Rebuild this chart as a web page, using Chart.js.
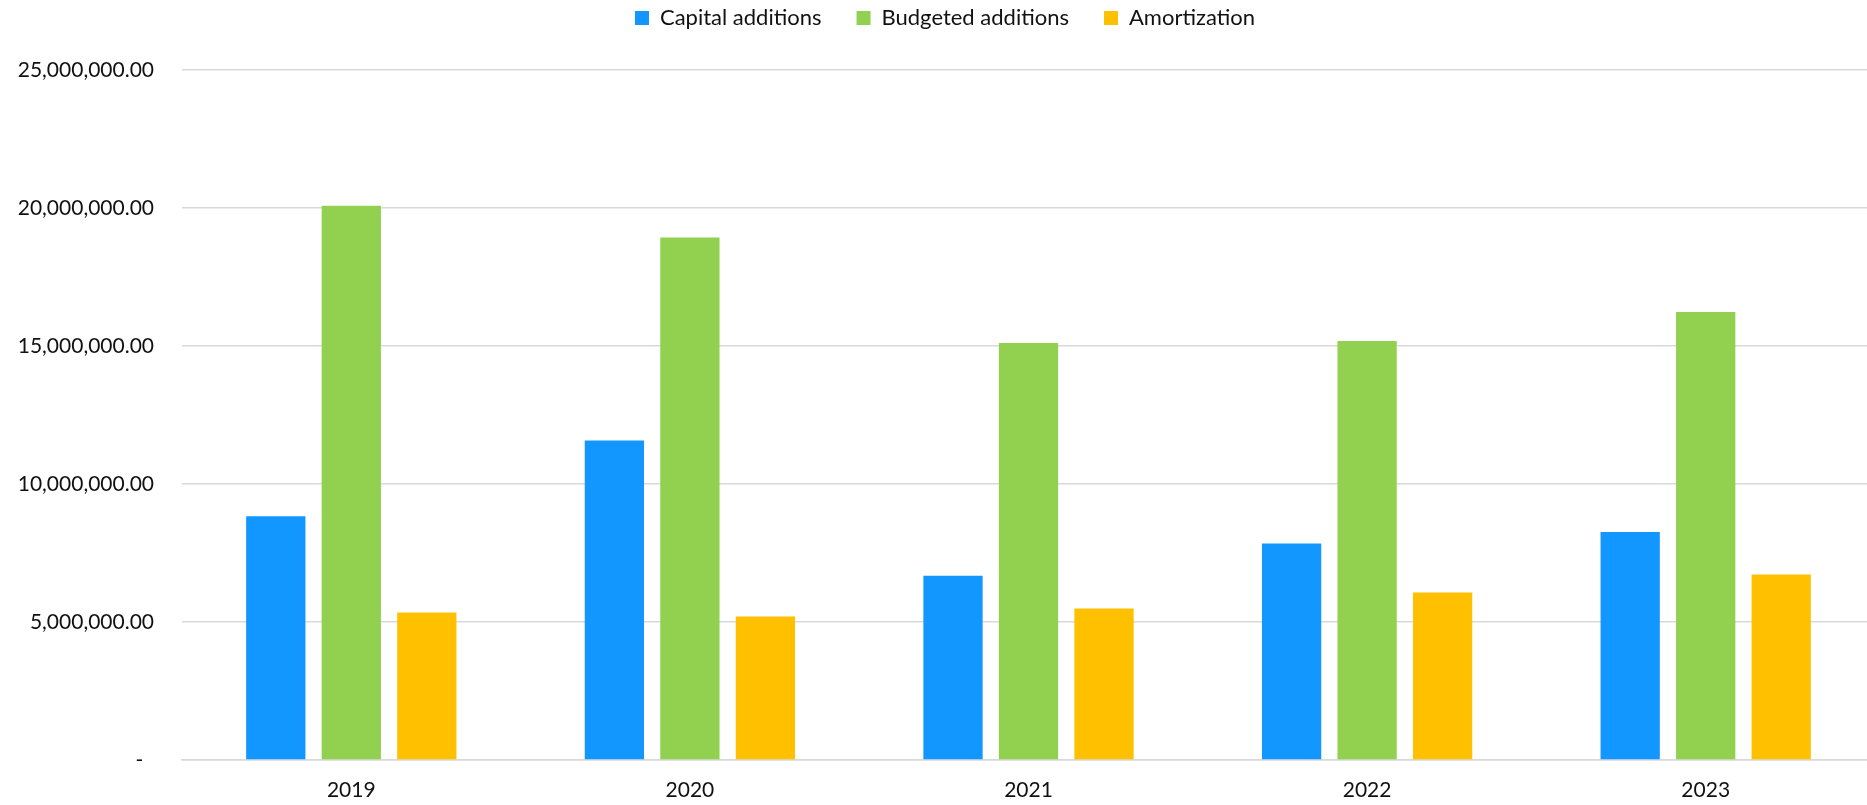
<!DOCTYPE html>
<html>
<head>
<meta charset="utf-8">
<title>Capital additions vs budget</title>
<script src="https://cdn.jsdelivr.net/npm/chart.js@4.4.1/dist/chart.umd.min.js"></script>
<style>
  html, body { margin: 0; padding: 0; background: #fff; overflow: hidden; }
  #wrap { position: relative; width: 1905px; height: 805px; }
</style>
</head>
<body>
<div id="wrap"><canvas id="capChart"></canvas></div>
<script>
// Years and series
var years = ["2019", "2020", "2021", "2022", "2023"];
var capitalAdditions = [8830000, 11580000, 6680000, 7840000, 8260000];
var budgetedAdditions = [20080000, 18930000, 15110000, 15180000, 16230000];
var amortization = [5340000, 5200000, 5490000, 6070000, 6720000];

// y axis ticks
var yMax = 25000000;
var yStep = 5000000;

var fontFamily = "Lato, 'Open Sans', sans-serif";
var textColor = "#111111";
var gridColor = "#d9d9d9";

// push the plot down below the legend
var legendGap = {
    id: "legendGap",
    beforeInit: function(chart) {
        var fit = chart.legend.fit;
        chart.legend.fit = function() {
            fit.bind(chart.legend)();
            this.height += 31;
        };
    }
};

function moneyLabel(value) {
    if (value === 0) {
        return "-  ";
    }
    return value.toLocaleString("en-US", { minimumFractionDigits: 2, maximumFractionDigits: 2 });
}

var ctx = document.getElementById("capChart").getContext("2d");
var capChart = new Chart(ctx, {
    type: "bar",
    data: {
        labels: years,
        datasets: [
            { label: "Capital additions", data: capitalAdditions, backgroundColor: "#1197ff" },
            { label: "Budgeted additions", data: budgetedAdditions, backgroundColor: "#92d050" },
            { label: "Amortization", data: amortization, backgroundColor: "#ffc000" }
        ]
    },
    options: {
        responsive: true,
        maintainAspectRatio: false,
        animation: false,
        categoryPercentage: 0.669,
        barPercentage: 0.785,
        // legend padding is wide for item spacing, so pull the top up
        layout: { padding: { left: 15, right: 30, top: -28, bottom: 0 } },
        plugins: {
            legend: {
                position: "top",
                labels: {
                    boxWidth: 14,
                    boxHeight: 14,
                    padding: 35,
                    color: textColor,
                    font: { family: fontFamily, size: 22 }
                }
            },
            tooltip: { enabled: false }
        },
        scales: {
            x: {
                grid: { display: false, drawTicks: false },
                border: { display: true, color: gridColor, width: 1.5 },
                ticks: {
                    padding: 18,
                    color: textColor,
                    font: { family: fontFamily, size: 21 }
                },
                afterFit: function(scale) { scale.height = 45; }
            },
            y: {
                min: 0,
                max: yMax,
                grid: { color: gridColor, lineWidth: 1.5, drawTicks: false },
                border: { display: false },
                ticks: {
                    stepSize: yStep,
                    padding: 28,
                    color: textColor,
                    font: { family: fontFamily, size: 21 },
                    callback: function(value) { return moneyLabel(value); }
                },
                afterFit: function(scale) { scale.width = 167; }
            }
        }
    },
    plugins: [legendGap]
});
</script>
</body>
</html>
